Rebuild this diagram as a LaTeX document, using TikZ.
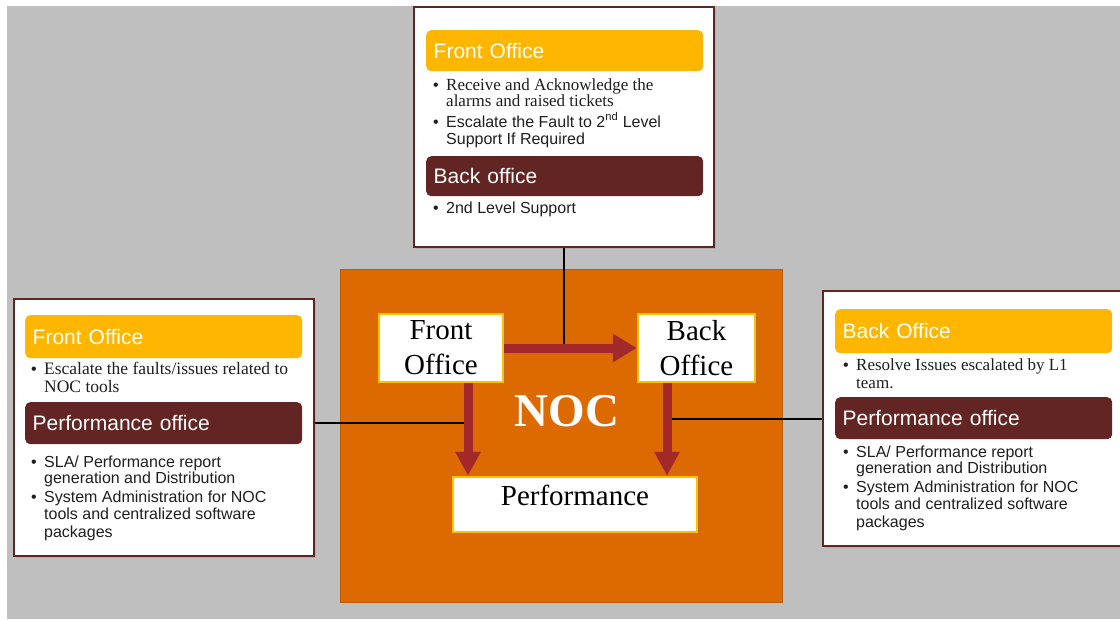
\documentclass[tikz,border=0pt]{standalone}
\usepackage{fontspec}
\setmainfont{Liberation Serif}
\newfontfamily\arialf{Liberation Sans}
\usetikzlibrary{arrows.meta,shadows}
\definecolor{bggray}{RGB}{191,191,191}
\definecolor{nocorange}{RGB}{221,106,0}
\definecolor{barYellow}{RGB}{255,182,0}
\definecolor{maroonc}{RGB}{99,37,35}
\definecolor{arrowred}{RGB}{163,40,42}
\definecolor{boxgold}{RGB}{255,192,0}
\newlength\bulw \setlength\bulw{13pt}
\newcommand\bitem[2]{\makebox[\bulw][l]{\arialf\fontsize{16}{18}\selectfont\textbullet}{#1\begin{tabular}[t]{@{}l@{}}#2\end{tabular}}}
\begin{document}
\begin{tikzpicture}[x=1pt,y=-1pt,
 outerbox/.style={draw=maroonc, line width=2pt, fill=white, inner sep=0pt,
   drop shadow={shadow xshift=2pt,shadow yshift=-2pt,opacity=0.25}},
 titlebar/.style={fill=#1, rounded corners=5pt, text=white,
   font=\arialf\fontsize{21}{24}\selectfont, anchor=north west,
   inner xsep=7.5pt, inner ysep=0pt, text width=262pt, align=left,
   text height=15pt, text depth=0pt},
 bul/.style={anchor=base west, inner sep=0pt, text=black!88},
 cbox/.style={draw=boxgold, line width=2.5pt, fill=white,
   font=\fontsize{29}{35}\selectfont, align=center, inner sep=0pt,
   drop shadow={shadow xshift=1.5pt,shadow yshift=-1.5pt,opacity=0.3}},
 conn/.style={draw=black, line width=2pt},
 bigarrow/.style={draw=arrowred, line width=9pt, -{Triangle[width=#1,length=24pt]}},
 bigarrow/.default=27pt
]
\fill[bggray] (7,6) rectangle (1120,619);
\useasboundingbox (0,0) rectangle (1120,619);

% NOC block
\node[fill=nocorange, draw=nocorange!85!black, line width=0.8pt, minimum width=442, minimum height=333, inner sep=0pt] (noc) at (561,435.5) {};
\node[text=white, font=\bfseries\fontsize{47}{47}\selectfont, inner sep=0pt] (noctext) at (567,411.5) {NOC};

% outer boxes
\node[outerbox, minimum width=300, minimum height=240] (tbox) at (564,127) {};
\node[outerbox, minimum width=300, minimum height=257] (lbox) at (164,427.5) {};
\node[outerbox, minimum width=302, minimum height=255] (rbox) at (974,418.5) {};

% title bars
\node[titlebar=barYellow, minimum height=41] (tfo) at (426,30) {Front Office};
\node[titlebar=maroonc, minimum height=40] (tbo) at (426,156) {Back office};
\node[titlebar=barYellow, minimum height=43] (lfo) at (25,315) {Front Office};
\node[titlebar=maroonc, minimum height=42] (lpo) at (25,402) {Performance office};
\node[titlebar=barYellow, minimum height=44] (rbo) at (835,309) {Back Office};
\node[titlebar=maroonc, minimum height=42] (rpo) at (835,397) {Performance office};

% bullets top
\node[bul] (t1) at (433,90) {\bitem{\fontsize{17}{16.5}\selectfont}{Receive and Acknowledge the\\alarms and raised tickets}};
\node[bul] (t2) at (433,127) {\bitem{\arialf\fontsize{16}{17}\selectfont}{Escalate the Fault to 2\textsuperscript{nd} Level\\Support If Required}};
\node[bul] (t3) at (433,213) {\bitem{\arialf\fontsize{16}{17}\selectfont}{2nd Level Support}};
% bullets left
\node[bul] (l1) at (31,374) {\bitem{\fontsize{17.5}{18}\selectfont}{Escalate the faults/issues related to\\NOC tools}};
\node[bul] (l2) at (31,467) {\bitem{\arialf\fontsize{16}{16.5}\selectfont}{SLA/ Performance report\\generation and Distribution}};
\node[bul] (l3) at (31,502) {\bitem{\arialf\fontsize{16}{17.5}\selectfont}{System Administration for NOC\\tools and centralized software\\packages}};
% bullets right
\node[bul] (r1) at (843,370) {\bitem{\fontsize{17}{18}\selectfont}{Resolve Issues escalated by L1\\team.}};
\node[bul] (r2) at (843,457) {\bitem{\arialf\fontsize{16}{16.5}\selectfont}{SLA/ Performance report\\generation and Distribution}};
\node[bul] (r3) at (843,492) {\bitem{\arialf\fontsize{16}{17.5}\selectfont}{System Administration for NOC\\tools and centralized software\\packages}};

% centre boxes
\node[cbox, minimum width=124, minimum height=68] (fo) at (441,348) {Front\\Office};
\node[cbox, minimum width=117, minimum height=68] (bo) at (696.5,348) {Back\\Office};
\node[cbox, minimum width=244, minimum height=55, text height=20pt, text depth=18pt] (perf) at (575,504.5) {Performance};

\coordinate (la) at ([xshift=27pt]fo.south);
\coordinate (ra) at ([xshift=-29.5pt]bo.south);

% connectors
\draw[conn] (tbox.south) -- (tbox.south |- fo.east);
\draw[conn] ([yshift=4.5pt]lbox.east) -- ([yshift=4.5pt]lbox.east -| la);
\draw[conn] (ra |- rbox.west) -- (rbox.west);

% arrows
\draw[bigarrow] (fo.east) -- (bo.west);
\draw[bigarrow=24pt] (la) -- (la |- perf.north);
\draw[bigarrow=24pt] (ra) -- (ra |- perf.north);
\end{tikzpicture}
\end{document}
